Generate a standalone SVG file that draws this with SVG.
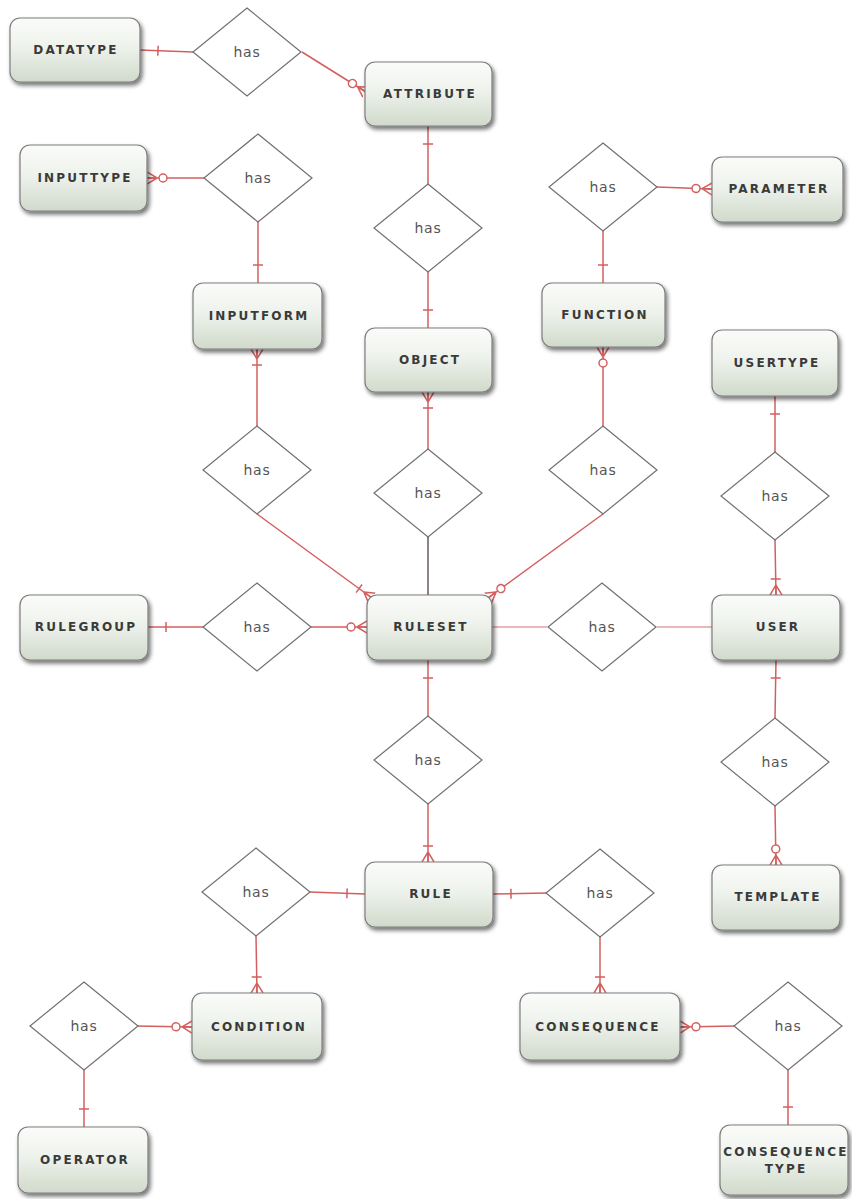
<svg xmlns="http://www.w3.org/2000/svg" width="852" height="1199" viewBox="0 0 852 1199">
<defs>
<linearGradient id="eg" x1="0" y1="0" x2="0" y2="1">
<stop offset="0" stop-color="#fbfcfa"/>
<stop offset="0.45" stop-color="#eef2ec"/>
<stop offset="1" stop-color="#d0dacb"/>
</linearGradient>
<filter id="sh" x="-10%" y="-10%" width="125%" height="135%">
<feDropShadow dx="2" dy="3" stdDeviation="2" flood-color="#000" flood-opacity="0.55"/>
</filter>
<marker id="one" viewBox="0 -8 30 16" refX="30" refY="0" markerWidth="30" markerHeight="16" markerUnits="userSpaceOnUse" orient="auto">
<path d="M12,-5 L12,5" stroke="#d45f5f" stroke-width="1.5" fill="none"/>
</marker>
<marker id="zmany" viewBox="0 -8 30 16" refX="30" refY="0" markerWidth="30" markerHeight="16" markerUnits="userSpaceOnUse" orient="auto">
<path d="M20,0 L30,-6 M20,0 L30,0 M20,0 L30,6" stroke="#d45f5f" stroke-width="1.5" fill="none"/>
<circle cx="14" cy="0" r="4" fill="#fff" stroke="#d45f5f" stroke-width="1.5"/>
</marker>
<marker id="omany" viewBox="0 -8 30 16" refX="30" refY="0" markerWidth="30" markerHeight="16" markerUnits="userSpaceOnUse" orient="auto">
<path d="M20,0 L30,-6 M20,0 L30,0 M20,0 L30,6 M14,-5 L14,5" stroke="#d45f5f" stroke-width="1.5" fill="none"/>
</marker>
</defs>
<style>
.ent rect{fill:url(#eg);stroke:#7d7d7d;stroke-width:1.2;filter:url(#sh)}
.ent text{font-family:"DejaVu Sans",Verdana,sans-serif;font-weight:bold;font-size:12px;letter-spacing:2.2px;fill:#3a3a3a;text-anchor:middle;dominant-baseline:central}
.rel polygon{fill:#fff;stroke:#707070;stroke-width:1.2}
.rel text{font-family:"DejaVu Sans",Verdana,sans-serif;font-size:14px;letter-spacing:0.8px;fill:#555;text-anchor:middle;dominant-baseline:central}
.c path{fill:none;stroke:#d45f5f;stroke-width:1.5}
.c path.dk{stroke:#6e5a5a}
.c path.lt{stroke:#e4a0a0}
</style>
<rect width="852" height="1199" fill="#fff"/>

<g id="connectors" class="c">
<path d="M193,52 L140,50" marker-end="url(#one)"/>
<path d="M302,52 L366,92" marker-end="url(#zmany)"/>
<path d="M428,184 L428,126" marker-end="url(#one)"/>
<path d="M428,272 L428,328" marker-end="url(#one)"/>
<path d="M204,178 L147,178" marker-end="url(#zmany)"/>
<path d="M258,222 L258,283" marker-end="url(#one)"/>
<path d="M257,426 L257,349" marker-end="url(#omany)"/>
<path d="M257,514 L372,598" marker-end="url(#omany)"/>
<path d="M428,449 L428,392" marker-end="url(#omany)"/>
<path class="dk" d="M428,537 L428,595"/>
<path d="M603,426 L603,347" marker-end="url(#zmany)"/>
<path d="M603,514 L488,598" marker-end="url(#zmany)"/>
<path d="M603,231 L603,283" marker-end="url(#one)"/>
<path d="M657,187 L712,189" marker-end="url(#zmany)"/>
<path d="M775,452 L775,396" marker-end="url(#one)"/>
<path d="M775,540 L776,595" marker-end="url(#omany)"/>
<path d="M205,627 L148,627" marker-end="url(#one)"/>
<path d="M310,627 L367,627" marker-end="url(#zmany)"/>
<path class="lt" d="M492,627 L547,627"/>
<path class="lt" d="M657,627 L712,627"/>
<path d="M428,716 L428,660" marker-end="url(#one)"/>
<path d="M428,804 L428,862" marker-end="url(#omany)"/>
<path d="M775,718 L776,660" marker-end="url(#one)"/>
<path d="M775,806 L776,865" marker-end="url(#zmany)"/>
<path d="M310,892 L365,894" marker-end="url(#one)"/>
<path d="M256,936 L257,993" marker-end="url(#omany)"/>
<path d="M547,893 L493,894" marker-end="url(#one)"/>
<path d="M600,937 L600,993" marker-end="url(#omany)"/>
<path d="M137,1026 L192,1027" marker-end="url(#zmany)"/>
<path d="M84,1070 L84,1127" marker-end="url(#one)"/>
<path d="M735,1026 L680,1027" marker-end="url(#zmany)"/>
<path d="M788,1070 L788,1125" marker-end="url(#one)"/>
</g>

<g id="rel-datatype-attribute" class="rel"><polygon points="247,8 301,52 247,96 193,52"/><text x="247" y="52">has</text></g>
<g id="rel-inputtype-inputform" class="rel"><polygon points="258,134 312,178 258,222 204,178"/><text x="258" y="178">has</text></g>
<g id="rel-attribute-object" class="rel"><polygon points="428,184 482,228 428,272 374,228"/><text x="428" y="228">has</text></g>
<g id="rel-function-parameter" class="rel"><polygon points="603,143 657,187 603,231 549,187"/><text x="603" y="187">has</text></g>
<g id="rel-inputform-ruleset" class="rel"><polygon points="257,426 311,470 257,514 203,470"/><text x="257" y="470">has</text></g>
<g id="rel-object-ruleset" class="rel"><polygon points="428,449 482,493 428,537 374,493"/><text x="428" y="493">has</text></g>
<g id="rel-function-ruleset" class="rel"><polygon points="603,426 657,470 603,514 549,470"/><text x="603" y="470">has</text></g>
<g id="rel-usertype-user" class="rel"><polygon points="775,452 829,496 775,540 721,496"/><text x="775" y="496">has</text></g>
<g id="rel-rulegroup-ruleset" class="rel"><polygon points="257,583 311,627 257,671 203,627"/><text x="257" y="627">has</text></g>
<g id="rel-ruleset-user" class="rel"><polygon points="602,583 656,627 602,671 548,627"/><text x="602" y="627">has</text></g>
<g id="rel-ruleset-rule" class="rel"><polygon points="428,716 482,760 428,804 374,760"/><text x="428" y="760">has</text></g>
<g id="rel-user-template" class="rel"><polygon points="775,718 829,762 775,806 721,762"/><text x="775" y="762">has</text></g>
<g id="rel-rule-condition" class="rel"><polygon points="256,848 310,892 256,936 202,892"/><text x="256" y="892">has</text></g>
<g id="rel-rule-consequence" class="rel"><polygon points="600,849 654,893 600,937 546,893"/><text x="600" y="893">has</text></g>
<g id="rel-condition-operator" class="rel"><polygon points="84,982 138,1026 84,1070 30,1026"/><text x="84" y="1026">has</text></g>
<g id="rel-consequence-type" class="rel"><polygon points="788,982 842,1026 788,1070 734,1026"/><text x="788" y="1026">has</text></g>

<g id="datatype" class="ent"><rect x="10" y="18" width="130" height="64" rx="10"/><text x="76" y="50">DATATYPE</text></g>
<g id="attribute" class="ent"><rect x="365" y="62" width="127" height="64" rx="10"/><text x="430" y="94">ATTRIBUTE</text></g>
<g id="inputtype" class="ent"><rect x="20" y="145" width="127" height="66" rx="10"/><text x="85" y="178">INPUTTYPE</text></g>
<g id="inputform" class="ent"><rect x="193" y="283" width="129" height="66" rx="10"/><text x="259" y="316">INPUTFORM</text></g>
<g id="object" class="ent"><rect x="365" y="328" width="127" height="64" rx="10"/><text x="430" y="360">OBJECT</text></g>
<g id="function" class="ent"><rect x="542" y="283" width="123" height="64" rx="10"/><text x="605" y="315">FUNCTION</text></g>
<g id="parameter" class="ent"><rect x="712" y="157" width="131" height="65" rx="10"/><text x="779" y="189">PARAMETER</text></g>
<g id="usertype" class="ent"><rect x="712" y="330" width="126" height="66" rx="10"/><text x="777" y="363">USERTYPE</text></g>
<g id="rulegroup" class="ent"><rect x="20" y="595" width="128" height="65" rx="10"/><text x="86" y="627">RULEGROUP</text></g>
<g id="ruleset" class="ent"><rect x="367" y="595" width="125" height="65" rx="10"/><text x="431" y="627">RULESET</text></g>
<g id="user" class="ent"><rect x="712" y="595" width="128" height="65" rx="10"/><text x="778" y="627">USER</text></g>
<g id="rule" class="ent"><rect x="365" y="862" width="128" height="65" rx="10"/><text x="431" y="894">RULE</text></g>
<g id="template" class="ent"><rect x="712" y="865" width="128" height="65" rx="10"/><text x="778" y="897">TEMPLATE</text></g>
<g id="condition" class="ent"><rect x="192" y="993" width="130" height="67" rx="10"/><text x="259" y="1027">CONDITION</text></g>
<g id="consequence" class="ent"><rect x="520" y="993" width="160" height="67" rx="10"/><text x="598" y="1027">CONSEQUENCE</text></g>
<g id="operator" class="ent"><rect x="18" y="1127" width="130" height="66" rx="10"/><text x="85" y="1160">OPERATOR</text></g>
<g id="consequencetype" class="ent"><rect x="720" y="1125" width="128" height="70" rx="10"/><text x="786" y="1152">CONSEQUENCE</text><text x="786" y="1169">TYPE</text></g>
</svg>
